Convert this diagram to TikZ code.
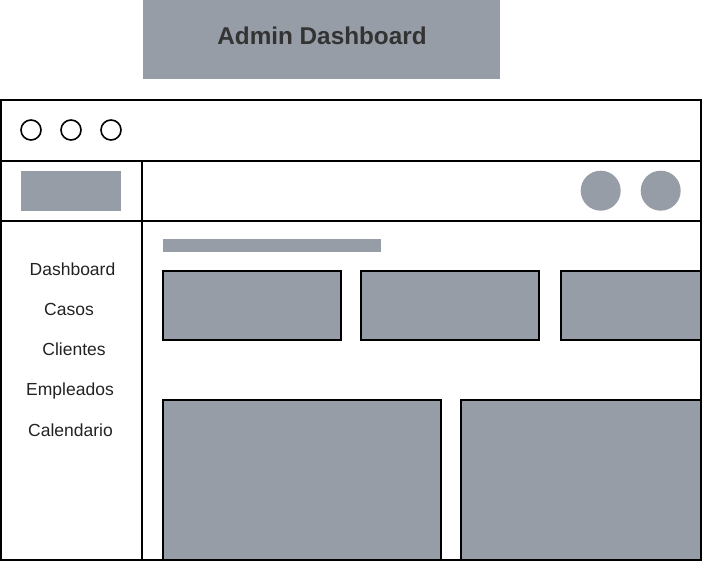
\documentclass[tikz,border=0pt]{standalone}
\usepackage{fontspec}
\setmainfont{Liberation Sans}
\definecolor{boxgray}{HTML}{979DA6}
\definecolor{titletext}{HTML}{333333}
\definecolor{menutext}{HTML}{222222}
\tikzset{
  frame/.style={draw=black, line width=2pt},
  card/.style={draw=black, line width=2pt, fill=boxgray},
  plain/.style={fill=boxgray},
  dot/.style={draw=black, line width=1.6pt},
  avatar/.style={fill=boxgray},
  menuitem/.style={anchor=base, inner sep=0pt, text=menutext, font=\fontsize{17.5}{20}\selectfont},
}
\begin{document}
\begin{tikzpicture}[x=1pt, y=-1pt]
\useasboundingbox (0,0) rectangle (702,561);
% title
\fill[boxgray] (143,0) rectangle (500,79);
\node[text=titletext, font=\bfseries\fontsize{24.3}{27}\selectfont, inner sep=0pt] (title) at (322,36) {Admin Dashboard};
% cards (drawn before frame so the frame overlays the clipped edges)
\node[plain, minimum width=218pt, minimum height=13pt, inner sep=0pt] (tbar) at (272,246) {};
\draw[card] (163,271) rectangle (341,340);
\draw[card] (361,271) rectangle (539,340);
\draw[card] (561,271) rectangle (700.5,340);
\draw[card] (163,400) rectangle (441,559.5);
\draw[card] (461,400) rectangle (700.5,559.5);
% window frame
\draw[frame] (1,100) rectangle (700.5,559.5);
\draw[frame] (1,161) -- (700.5,161);
\draw[frame] (1,221) -- (700.5,221);
\draw[frame] (142,161) -- (142,559.5);
% window buttons
\draw[dot] (31,130) circle (10);
\draw[dot] (71,130) circle (10);
\draw[dot] (111,130) circle (10);
% logo and avatars
\fill[boxgray] (21,171) rectangle (121,211);
\fill[boxgray] (600.7,190.7) circle (20);
\fill[boxgray] (660.7,190.7) circle (20);
% menu
\node[menuitem] (m1) at (72.5,276) {Dashboard};
\node[menuitem] (m2) at (69,316) {Casos};
\node[menuitem] (m3) at (74,356) {Clientes};
\node[menuitem] (m4) at (70,396) {Empleados};
\node[menuitem] (m5) at (70.5,436) {Calendario};
\end{tikzpicture}
\end{document}
